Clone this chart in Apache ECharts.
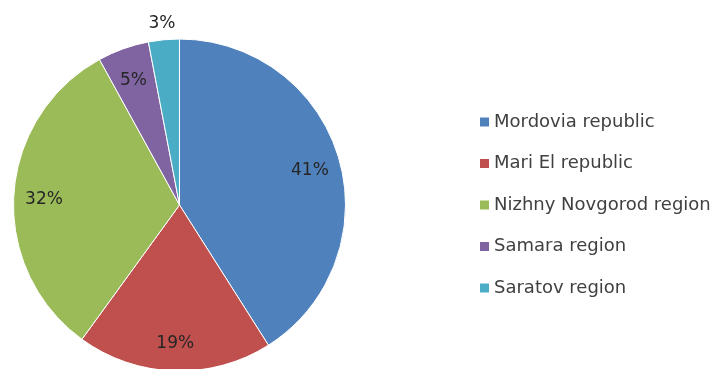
<!DOCTYPE html>
<html>
<head>
<meta charset="utf-8">
<script src="https://cdn.jsdelivr.net/npm/echarts@6/dist/echarts.min.js"></script>
<style>
  html, body { margin: 0; padding: 0; background: #fff; }
  #chart { width: 726px; height: 369px; }
</style>
</head>
<body>
<div id="chart"></div>
<script>
const regions = ["Mordovia republic", "Mari El republic", "Nizhny Novgorod region", "Samara region", "Saratov region"];
const shares = [41, 19, 32, 5, 3];
const colors = ["#4f81bd", "#c0504d", "#9bbb59", "#8064a2", "#4bacc6"];
// slices whose label sits outside the pie
const outsideLabels = ["Saratov region"];

const center = [179.5, 205];
const R = 166;
const font = "DejaVu Sans";

const chart = echarts.init(document.getElementById("chart"));

const pieData = regions.map((name, i) => ({ name: name, value: shares[i] }));

const labelStyle = {
  formatter: "{d}%",
  fontFamily: font,
  fontSize: 17,
  color: "#262626",
  offset: [0, 3],
};

const option = {
  animation: false,
  color: colors,
  legend: {
    orient: "vertical",
    left: 475,
    top: 107,
    padding: 5,
    icon: "rect",
    itemWidth: 9,
    itemHeight: 9,
    itemGap: 21.5,
    itemStyle: { borderWidth: 0 },
    textStyle: {
      fontFamily: font,
      fontSize: 18,
      lineHeight: 20,
      color: "#404040",
    },
    data: regions,
  },
  series: [
    {
      name: "share",
      type: "pie",
      center: center,
      radius: [0, R],
      startAngle: 90,
      clockwise: true,
      itemStyle: { borderColor: "#fff", borderWidth: 1 },
      label: { show: false },
      labelLine: { show: false },
      emphasis: { disabled: true },
      data: pieData,
    },
    {
      // label ring inside the pie
      name: "labels-in",
      type: "pie",
      center: center,
      radius: [R * 0.6, R],
      startAngle: 90,
      silent: true,
      itemStyle: { color: "transparent" },
      label: Object.assign({ show: true, position: "inside" }, labelStyle),
      labelLine: { show: false },
      data: pieData.map((d) => ({
        name: d.name,
        value: d.value,
        label: { show: outsideLabels.indexOf(d.name) < 0 },
      })),
    },
    {
      // label ring just outside the pie
      name: "labels-out",
      type: "pie",
      center: center,
      radius: [R, R * 1.2],
      startAngle: 90,
      silent: true,
      itemStyle: { color: "transparent" },
      label: Object.assign({ show: true, position: "inside" }, labelStyle),
      labelLine: { show: false },
      data: pieData.map((d) => ({
        name: d.name,
        value: d.value,
        label: { show: outsideLabels.indexOf(d.name) >= 0 },
      })),
    },
  ],
};

chart.setOption(option);
</script>
</body>
</html>
